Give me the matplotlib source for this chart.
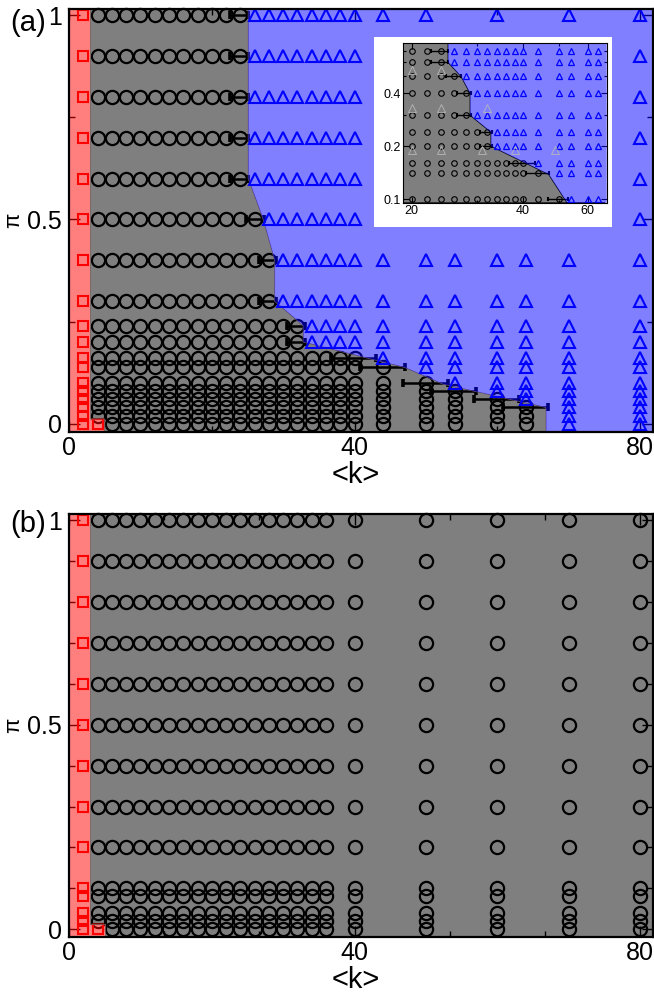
import matplotlib
matplotlib.use("Agg")
import matplotlib.pyplot as plt
from matplotlib.patches import Polygon, Rectangle
from matplotlib.ticker import FixedLocator, NullFormatter

plt.rcParams['font.family'] = ['Liberation Sans', 'DejaVu Sans']

# sampled mean degrees
k_low = [4, 6, 8, 10, 12, 14, 16, 18, 20, 22, 24, 26, 28, 30, 32, 34, 36, 38, 40]
k_high = [44, 50, 54, 60, 64, 70, 80]
k_high_top = [44, 50, 60, 70, 80]
k_b = [4, 6, 8, 10, 12, 14, 16, 18, 20, 22, 24, 26, 28, 30, 32, 34, 36, 40, 50, 60, 70, 80]

# panel (a): rows of pi and last <k> that is still in the grey phase
pi_a = [1.0, 0.9, 0.8, 0.7, 0.6, 0.5, 0.4, 0.3, 0.24, 0.2,
        0.16, 0.14, 0.1, 0.08, 0.06, 0.04, 0.02, 0.0]
kc_a = [24, 24, 24, 24, 24, 26, 28, 28, 32, 32,
        40, 44, 50, 54, 60, 64, 64, 64]

# panel (b): every point is in the grey phase
pi_b = [1.0, 0.9, 0.8, 0.7, 0.6, 0.5, 0.4, 0.3, 0.2, 0.1, 0.08, 0.04, 0.02, 0.0]

# red-phase points (k=2 everywhere, plus k=4 at pi=0)
sq_k_a = [2] * len(pi_a) + [4]
sq_pi_a = pi_a + [0.0]
sq_k_b = [2] * len(pi_b) + [4]
sq_pi_b = pi_b + [0.0]

# transition points with horizontal error bars
err_pi = [1.0, 0.9, 0.8, 0.7, 0.6, 0.5, 0.4, 0.3, 0.24, 0.2,
          0.16, 0.14, 0.1, 0.08, 0.06, 0.04]
err_k = [23.8, 23.8, 23.8, 23.8, 23.8, 26.0, 27.8, 27.8, 31.8, 31.8,
         39.9, 43.9, 49.9, 53.9, 59.9, 63.9]
err_dk = [1.25, 1.25, 1.25, 1.25, 1.25, 1.25, 1.25, 1.25, 1.25, 1.25,
          3.15, 3.15, 3.15, 3.15, 3.15, 3.15]

# grey/blue phase boundary
bnd_k = [25.1, 25.1, 27.2, 28.8, 28.8, 32.8, 32.8, 47.0, 52.4, 66.8]
bnd_pi = [0.6, 0.6, 0.5, 0.4, 0.3, 0.24, 0.2, 0.138, 0.097, 0.04]
k_red = 3.0
k_patch, pi_patch = 5.0, 0.012

# inset (log-log zoom)
k_in = [20, 22, 24, 26, 28, 30, 32, 34, 36, 38, 40, 44, 50, 54, 60, 64]
pi_in = [0.7, 0.6, 0.5, 0.4, 0.3, 0.24, 0.2, 0.16, 0.14, 0.1]
ghost_k = [20, 24, 20, 24, 32, 20, 24, 31, 38, 49]
ghost_pi = [0.54, 0.54, 0.33, 0.33, 0.33, 0.19, 0.19, 0.19, 0.19, 0.19]

XMIN, XMAX = 0, 81.8
YMIN, YMAX = -0.02, 1.015

RED = (1, 0, 0, 0.5)
GREY = (0, 0, 0, 0.5)
BLUE = (0, 0, 1, 0.5)


def boundary_polys(ymin, ymax, xmax):
    line = list(zip(bnd_k, bnd_pi))
    line[0] = (bnd_k[0], ymax)
    line.append((bnd_k[-1], ymin))
    grey = ([(k_red, ymax)] + line +
            [(k_patch, ymin), (k_patch, pi_patch), (k_red, pi_patch)])
    blue = line + [(xmax, ymin), (xmax, ymax)]
    return grey, blue


def red_poly(ymin, ymax):
    return [(XMIN, ymin), (k_patch, ymin), (k_patch, pi_patch),
            (k_red, pi_patch), (k_red, ymax), (XMIN, ymax)]


def style_axes(ax, xminor, yminor):
    ax.set_xlim(XMIN, XMAX)
    ax.set_ylim(YMIN, YMAX)
    ax.set_xticks([0, 40, 80])
    ax.set_yticks([0, 0.5, 1])
    ax.set_yticklabels(['0', '0.5', '1'])
    ax.xaxis.set_minor_locator(FixedLocator(xminor))
    ax.yaxis.set_minor_locator(FixedLocator(yminor))
    ax.tick_params(which='both', direction='in', top=True, right=True,
                   width=1, labelsize=18, pad=5, colors='black')
    ax.tick_params(axis='x', pad=3)
    ax.tick_params(which='major', length=8)
    ax.tick_params(which='minor', length=4.5)
    for s in ax.spines.values():
        s.set_linewidth(1.6)
        s.set_zorder(10)
    ax.set_xlabel('<k>', fontsize=21, va='center')
    ax.xaxis.set_label_coords(0.4905, -0.102)
    ax.set_ylabel('\u03c0', fontsize=16, va='center')
    ax.yaxis.set_label_coords(-0.095, 0.5)


fig = plt.figure(figsize=(6.54, 9.97), dpi=100)
ax_a = fig.add_axes([69 / 654, 565 / 997, 584 / 654, 423 / 997])
ax_b = fig.add_axes([69 / 654, 59.7 / 997, 584 / 654, 423 / 997])

# ---- panel (a) ----
kc_of = dict(zip(pi_a, kc_a))
sq_set = set(zip(sq_k_a, sq_pi_a))
circ_k, circ_pi, tri_k, tri_pi = [], [], [], []
for p, kc in zip(pi_a, kc_a):
    for k in k_low + (k_high_top if p >= 0.5 else k_high):
        if (k, p) in sq_set:
            continue
        if k <= kc:
            circ_k.append(k)
            circ_pi.append(p)
        else:
            tri_k.append(k)
            tri_pi.append(p)

ax_a.plot(circ_k, circ_pi, 'o', ms=9.5, mfc='none', mec='black', mew=1.6,
          zorder=2, clip_on=False)
ax_a.plot(sq_k_a, sq_pi_a, 's', ms=7, mfc='none', mec='red', mew=1.5,
          zorder=2, clip_on=False)
ax_a.errorbar(err_k, err_pi, xerr=err_dk, fmt='none', ecolor='black',
              elinewidth=1.8, capsize=2.8, capthick=2.6, zorder=2)
grey, blue = boundary_polys(YMIN, YMAX, XMAX)
ax_a.add_patch(Polygon(red_poly(YMIN, YMAX), closed=True, fc=RED, ec='none', zorder=3))
ax_a.add_patch(Polygon(grey, closed=True, fc=GREY, ec=(0.45, 0.35, 0.35), lw=0.6, zorder=3))
ax_a.add_patch(Polygon(blue, closed=True, fc=BLUE, ec='none', zorder=3))
ax_a.plot(tri_k, tri_pi, '^', ms=9, mfc='none', mec='blue', mew=1.5,
          zorder=4, clip_on=False)
style_axes(ax_a, [20, 60], [0.25, 0.75])

# ---- panel (b) ----
sq_set_b = set(zip(sq_k_b, sq_pi_b))
cb_k, cb_pi = [], []
for p in pi_b:
    for k in k_b:
        if (k, p) not in sq_set_b:
            cb_k.append(k)
            cb_pi.append(p)
ax_b.plot(cb_k, cb_pi, 'o', ms=9.5, mfc='none', mec='black', mew=1.6,
          zorder=2, clip_on=False)
ax_b.plot(sq_k_b, sq_pi_b, 's', ms=7, mfc='none', mec='red', mew=1.5,
          zorder=2, clip_on=False)
grey_b = [(k_red, YMAX), (XMAX, YMAX), (XMAX, YMIN), (k_patch, YMIN),
          (k_patch, pi_patch), (k_red, pi_patch)]
ax_b.add_patch(Polygon(red_poly(YMIN, YMAX), closed=True, fc=RED, ec='none', zorder=3))
ax_b.add_patch(Polygon(grey_b, closed=True, fc=GREY, ec=(0.45, 0.35, 0.35), lw=0.6, zorder=3))
style_axes(ax_b, [40 / 3, 80 / 3, 160 / 3, 200 / 3],
           [0.1, 0.2, 0.3, 0.4, 0.6, 0.7, 0.8, 0.9])

fig.text(10 / 654, 1 - 23 / 997, '(a)', fontsize=21, va='center', ha='left')
fig.text(10 / 654, 1 - 524 / 997, '(b)', fontsize=21, va='center', ha='left')

# ---- inset ----
fig.patches.append(Rectangle((374 / 654, 1 - 227 / 997), 238 / 654, 190 / 997,
                             transform=fig.transFigure, fc='white', ec='none',
                             zorder=20))
ax_in = fig.add_axes([403.3 / 654, 1 - 202.7 / 997, 203.4 / 654, 160 / 997],
                     zorder=21)
ax_in.set_xscale('log')
ax_in.set_yscale('log')
IX0, IX1, IY0, IY1 = 19.0, 67.5, 0.0953, 0.777
ax_in.set_xlim(IX0, IX1)
ax_in.set_ylim(IY0, IY1)

ic_k, ic_pi, it_k, it_pi = [], [], [], []
for p in pi_in:
    for k in k_in:
        if k <= kc_of[p]:
            ic_k.append(k)
            ic_pi.append(p)
        else:
            it_k.append(k)
            it_pi.append(p)
ax_in.plot(ic_k, ic_pi, 'o', ms=4, mfc='none', mec='black', mew=0.8, zorder=2)
ie = [i for i, p in enumerate(err_pi) if p >= 0.1 and p <= 0.7]
ax_in.errorbar([err_k[i] for i in ie], [err_pi[i] for i in ie],
               xerr=[err_dk[i] for i in ie], fmt='none', ecolor='black',
               elinewidth=1.0, capsize=1.5, capthick=1.5, zorder=2)
grey_i, blue_i = boundary_polys(IY0, IY1, IX1)
ax_in.add_patch(Polygon(grey_i, closed=True, fc=GREY, ec='black', lw=0.6, zorder=3))
ax_in.add_patch(Polygon(blue_i, closed=True, fc=BLUE, ec='none', zorder=3))
ax_in.plot(it_k, it_pi, '^', ms=4.5, mfc='none', mec='blue', mew=0.9, zorder=4)
ax_in.plot(ghost_k, ghost_pi, '^', ms=6, mfc='none', mec='#b8b8b8', mew=0.6, zorder=4)

ax_in.xaxis.set_major_locator(FixedLocator([20, 40, 60]))
ax_in.set_xticklabels(['20', '40', '60'])
ax_in.xaxis.set_minor_formatter(NullFormatter())
ax_in.yaxis.set_major_locator(FixedLocator([0.1, 0.2, 0.4]))
ax_in.set_yticklabels(['0.1', '0.2', '0.4'])
ax_in.yaxis.set_minor_formatter(NullFormatter())
ax_in.tick_params(which='both', direction='in', top=True, right=True,
                  labelsize=9, pad=2, width=0.8)
ax_in.tick_params(which='major', length=4)
ax_in.tick_params(which='minor', length=2.5)
for s in ax_in.spines.values():
    s.set_linewidth(0.8)
    s.set_zorder(10)

fig.savefig('out.png', dpi=100)
